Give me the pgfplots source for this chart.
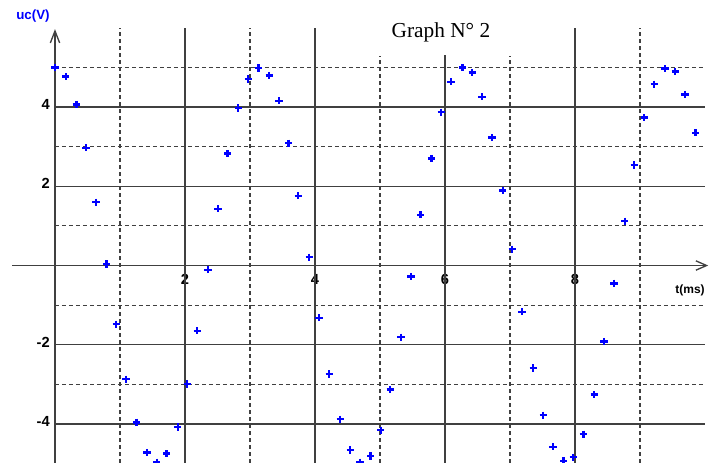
\documentclass[border=0pt]{standalone}
\usepackage{fontspec}
\setmainfont{Liberation Serif}
\setsansfont{Liberation Sans}
\usepackage{pgfplots}
\pgfplotsset{compat=1.18}
\usetikzlibrary{arrows.meta}
\pgfplotstableread{
t u
0.000 5.00
0.165 4.77
0.328 4.07
0.477 2.97
0.631 1.60
0.795 0.04
0.943 -1.48
1.092 -2.87
1.257 -3.96
1.415 -4.72
1.565 -4.97
1.718 -4.75
1.888 -4.08
2.035 -2.99
2.189 -1.65
2.354 -0.11
2.508 1.43
2.657 2.83
2.820 3.98
2.974 4.71
3.128 4.99
3.297 4.80
3.446 4.16
3.595 3.09
3.743 1.76
3.912 0.21
4.062 -1.32
4.220 -2.74
4.389 -3.88
4.543 -4.66
4.692 -4.97
4.857 -4.81
5.011 -4.16
5.158 -3.13
5.323 -1.81
5.477 -0.28
5.626 1.28
5.792 2.70
5.943 3.87
6.092 4.64
6.269 5.00
6.420 4.87
6.569 4.26
6.723 3.23
6.888 1.89
7.035 0.41
7.185 -1.17
7.358 -2.59
7.512 -3.78
7.662 -4.58
7.826 -4.93
7.974 -4.84
8.128 -4.26
8.297 -3.26
8.446 -1.92
8.600 -0.45
8.765 1.12
8.912 2.54
9.066 3.74
9.220 4.58
9.385 4.97
9.543 4.90
9.692 4.32
9.857 3.35
}\datatable
\begin{document}
\begin{tikzpicture}
\begin{axis}[
  scale only axis, width=537.75pt, height=347.25pt,
  xmin=-0.846, xmax=10.185, ymin=-4.987, ymax=6.705,
  axis lines=middle, axis line style={draw=none},
  clip=false,
  xtick={2,4,6,8}, xticklabels={2,4,6,8},
  ytick={-4,-2,2,4}, yticklabels={-4,-2,2,4},
  major tick length=0pt, tick style={draw=none},
  xticklabel style={anchor=north, inner sep=0pt, yshift=-6.2pt, font=\sffamily\bfseries\fontsize{11}{13}\selectfont},
  yticklabel style={anchor=east, inner sep=0pt, xshift=-3.75pt, yshift=2pt, font=\sffamily\bfseries\fontsize{11}{13}\selectfont},
]
% grid
\draw[black!75, line width=0.8pt, dash pattern=on 3pt off 2.25pt]
  (axis cs:0,5) -- (axis cs:10,5)
  (axis cs:0,3) -- (axis cs:10,3)
  (axis cs:0,1) -- (axis cs:10,1)
  (axis cs:0,-1) -- (axis cs:10,-1)
  (axis cs:0,-3) -- (axis cs:10,-3)
  (axis cs:1,-4.987) -- (axis cs:1,6.0)
  (axis cs:3,-4.987) -- (axis cs:3,6.0)
  (axis cs:5,-4.987) -- (axis cs:5,5.3)
  (axis cs:7,-4.987) -- (axis cs:7,5.3)
  (axis cs:9,-4.987) -- (axis cs:9,6.0);
\draw[black!75, line width=1pt]
  (axis cs:0,4) -- (axis cs:10,4)
  (axis cs:0,2) -- (axis cs:10,2)
  (axis cs:0,-2) -- (axis cs:10,-2)
  (axis cs:0,-4) -- (axis cs:10,-4)
  (axis cs:2,-4.987) -- (axis cs:2,6.0)
  (axis cs:4,-4.987) -- (axis cs:4,6.0)
  (axis cs:6,-4.987) -- (axis cs:6,5.32)
  (axis cs:8,-4.987) -- (axis cs:8,6.0);
% axes
\draw[black!75, line width=1pt, -{Straight Barb[length=8pt,width=7pt]}]
  (axis cs:-0.66,0) -- (axis cs:10.05,0);
\draw[black!75, line width=1pt, -{Straight Barb[length=9pt,width=7pt]}]
  (axis cs:0,-4.987) -- (axis cs:0,5.97);
% data
\addplot[only marks, mark=+, blue, mark size=2.7pt, line width=1.8pt] table[x=t, y=u] {\datatable};
% labels
\node[anchor=base, inner sep=0pt, font=\fontsize{16}{19}\selectfont] at (axis cs:5.938,5.77) {Graph N° 2};
\node[inner sep=0pt, text=blue, font=\sffamily\bfseries\fontsize{10}{12}\selectfont] at (axis cs:-0.338,6.30) {uc(V)};
\node[inner sep=0pt, font=\sffamily\bfseries\fontsize{9}{11}\selectfont] at (axis cs:9.77,-0.62) {t(ms)};
\end{axis}
\pgfresetboundingbox
\path (current axis.south west) rectangle (current axis.north east);
\end{tikzpicture}
\end{document}
